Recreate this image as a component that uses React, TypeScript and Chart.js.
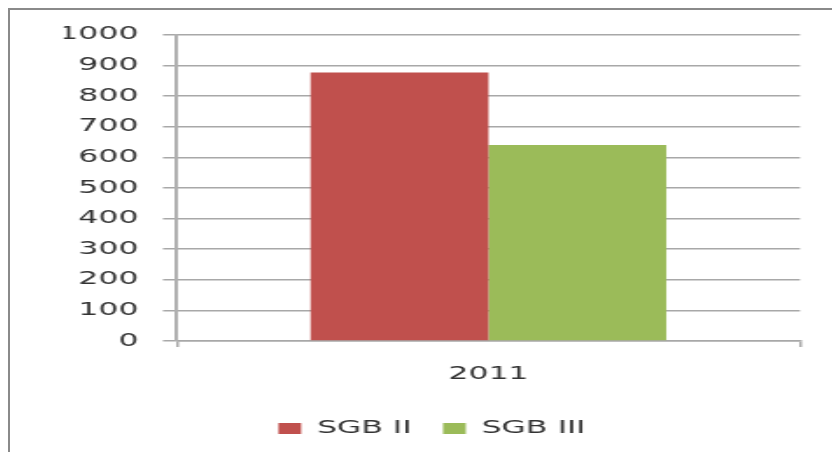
import React, { useEffect, useRef } from 'react';
import { Chart, registerables } from 'chart.js';

Chart.register(...registerables);

const categories = ['2011'];
const seriesNames = ['SGB II', 'SGB III'];
const sgb2Values = [877];
const sgb3Values = [640];
const yMin = 0;
const yMax = 1000;
const yStep = 100;

const SX = 1.75;
const CW = 470;
const CH = 442;
const FONT = { family: 'DejaVu Sans', size: 18 };

export default function App() {
  const ref = useRef<HTMLCanvasElement | null>(null);

  useEffect(() => {
    if (!ref.current) return;
    const chart = new Chart(ref.current, {
      type: 'bar',
      data: {
        labels: categories,
        datasets: [
          {
            label: seriesNames[0],
            data: sgb2Values,
            backgroundColor: '#C0504D',
            borderWidth: 0,
            categoryPercentage: 0.571,
            barPercentage: 1,
          },
          {
            label: seriesNames[1],
            data: sgb3Values,
            backgroundColor: '#9BBB59',
            borderWidth: 0,
            categoryPercentage: 0.571,
            barPercentage: 1,
          },
        ],
      },
      options: {
        responsive: false,
        animation: false,
        devicePixelRatio: 1,
        layout: { padding: { left: 30.8, right: 18.6, top: 23, bottom: 4.5 } },
        plugins: {
          tooltip: { enabled: false },
          legend: {
            position: 'bottom',
            labels: {
              boxWidth: 13,
              boxHeight: 11,
              padding: 18,
              color: '#333333',
              font: FONT,
            },
          },
        },
        scales: {
          x: {
            ticks: { padding: 17, color: '#333333', font: FONT },
            grid: { drawOnChartArea: false, tickLength: 6, color: '#a8a8a8', lineWidth: 1.5 },
            border: { display: true, color: '#a8a8a8', width: 1.5 },
            afterFit: (s: any) => {
              s.height = 60.5;
            },
          },
          y: {
            min: yMin,
            max: yMax,
            ticks: {
              stepSize: yStep,
              padding: 14,
              color: '#333333',
              font: FONT,
              callback: (v: any) => String(v),
            },
            grid: { color: '#a8a8a8', lineWidth: 1.5, tickLength: 8 },
            border: { display: true, color: '#b0b0b0', width: 2 },
            afterFit: (s: any) => {
              s.width = 64.6;
            },
          },
        },
      },
    });
    return () => chart.destroy();
  }, []);

  return (
    <div
      style={{
        position: 'fixed',
        left: 8,
        top: 8,
        width: 824,
        height: 444,
        borderTop: '2px solid #8a8a8a',
        borderLeft: '2px solid #8a8a8a',
        boxSizing: 'border-box',
        overflow: 'hidden',
        background: '#fff',
      }}
    >
      <canvas
        ref={ref}
        width={CW}
        height={CH}
        style={{ display: 'block', transform: `scaleX(${SX})`, transformOrigin: '0 0' }}
      />
    </div>
  );
}
